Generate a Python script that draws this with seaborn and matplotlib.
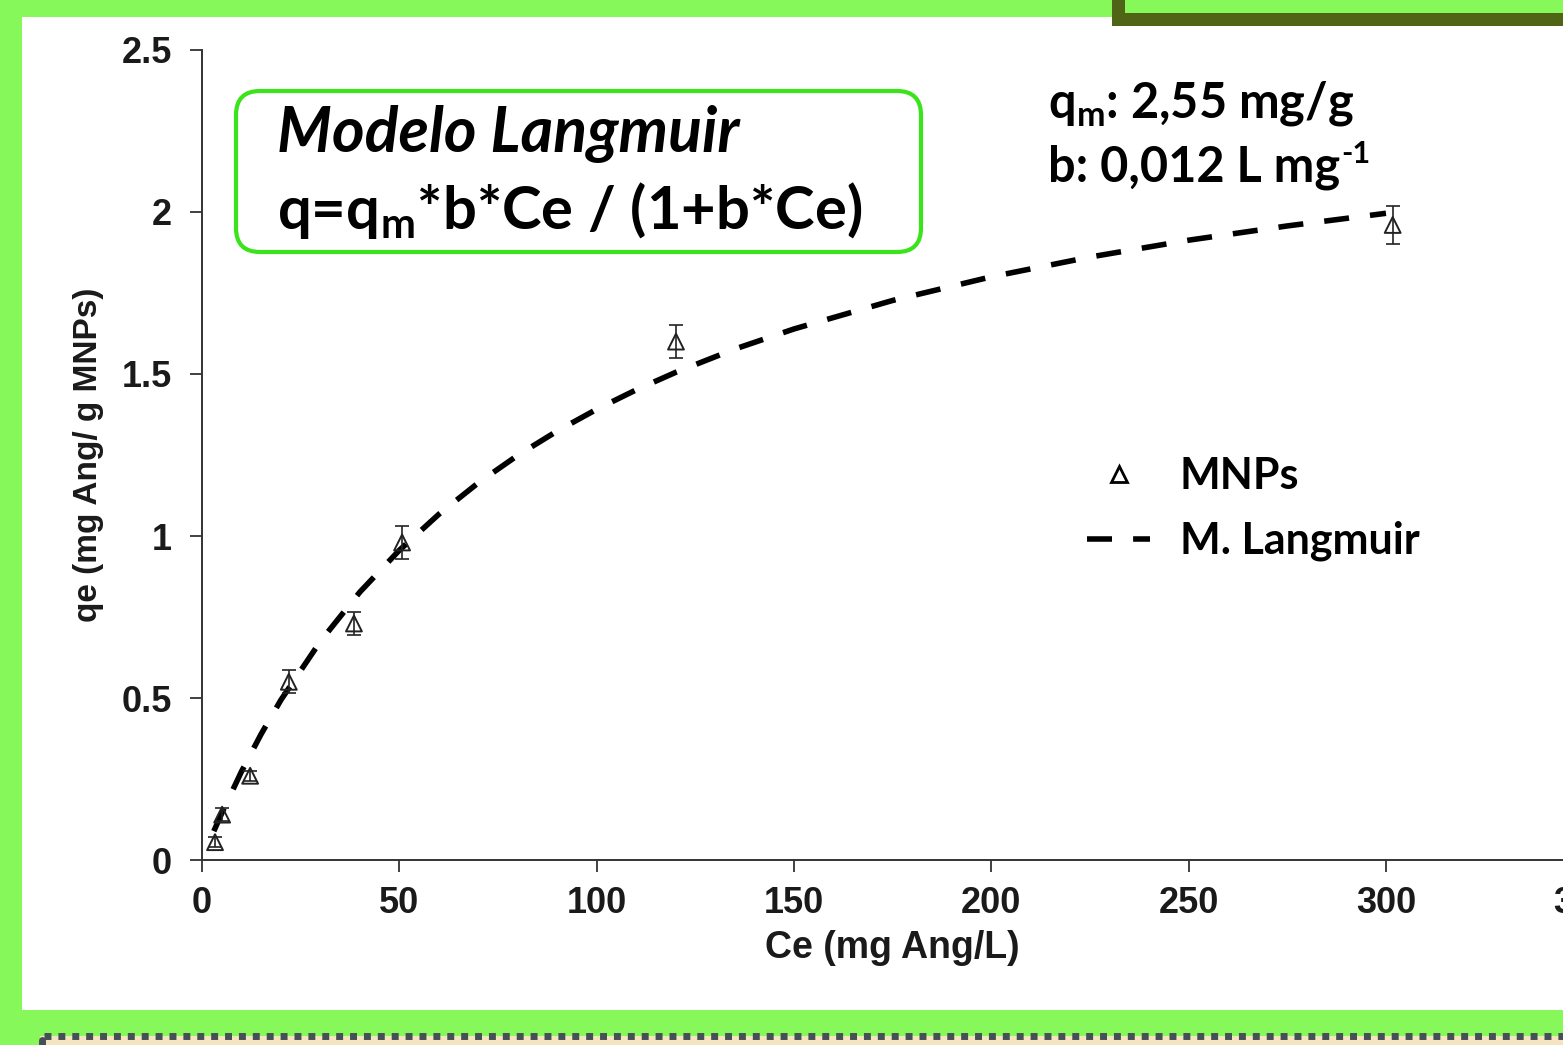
import matplotlib
matplotlib.use("Agg")
import matplotlib.pyplot as plt
import seaborn as sns
import pandas as pd
from matplotlib.patches import Rectangle, FancyBboxPatch
from matplotlib.lines import Line2D
from matplotlib.transforms import IdentityTransform

# ---------------- data ----------------
ce_obs = [3.3, 5.1, 12.2, 22.0, 38.5, 50.7, 120.1, 301.7]
qe_obs = [0.055, 0.14, 0.26, 0.55, 0.73, 0.98, 1.60, 1.96]
qe_err = [0.015, 0.02, 0.015, 0.035, 0.035, 0.05, 0.05, 0.06]

ce_fit = [3, 5, 10, 15, 20, 30, 40, 50, 60, 70, 80, 90, 100, 110, 120, 135,
          150, 175, 200, 225, 250, 275, 300]
q_fit = [0.089, 0.144, 0.273, 0.389, 0.494, 0.675, 0.827, 0.956, 1.067, 1.164,
         1.249, 1.324, 1.391, 1.451, 1.505, 1.577, 1.639, 1.727, 1.800, 1.861,
         1.913, 1.957, 1.996]

x_ticks = [0, 50, 100, 150, 200, 250, 300, 350]
x_tick_labels = ["0", "50", "100", "150", "200", "250", "300", "350"]
y_ticks = [0, 0.5, 1, 1.5, 2, 2.5]
y_tick_labels = ["0", "0.5", "1", "1.5", "2", "2.5"]

x_label = "Ce (mg Ang/L)"
y_label = "qe (mg Ang/ g MNPs)"
title_line1 = "Modelo Langmuir"
title_line2 = r"q=q$_\mathregular{m}$*b*Ce / (1+b*Ce)"
param_line1 = r"q$_\mathregular{m}$: 2,55 mg/g"
param_line2 = "b: 0,012 L mg"
param_line2_sup = "-1"
legend_labels = ["MNPs", "M. Langmuir"]

# ---------------- styling ----------------
W, H = 1563, 1045
GREEN_BG = "#86F85A"
sns.set_theme(style="ticks")
plt.rcParams["font.family"] = ["Liberation Sans", "DejaVu Sans"]

fig = plt.figure(figsize=(W / 100, H / 100), dpi=100, facecolor=GREEN_BG)


def px_rect(x0, y0, x1, y1, **kw):
    return Rectangle((x0 / W, 1 - y1 / H), (x1 - x0) / W, (y1 - y0) / H,
                     transform=fig.transFigure, **kw)


# slide decorations
fig.add_artist(px_rect(22, 17, 1700, 1010, fc="white", ec="none", zorder=-10))
fig.add_artist(px_rect(1112, -10, 1700, 26, fc="#4F6414", ec="none", zorder=-9))
fig.add_artist(px_rect(1125, -10, 1700, 13, fc=GREEN_BG, ec="none", zorder=-8))
fig.add_artist(px_rect(40, 1036, 1700, 1080, fc="#F4E4BF", ec="none", zorder=-9))
fig.add_artist(Line2D([44 / W, 1.0], [1 - 1036 / H] * 2, transform=fig.transFigure,
                      color="#474F56", lw=5, dashes=(1, 1), zorder=-7))
fig.add_artist(Line2D([41.5 / W] * 2, [1 - 1040 / H, 0.0], transform=fig.transFigure,
                      color="#474F56", lw=5, zorder=-7))

# axes: x from 0 (px 202) to 350 (px ~1583), y 0 (px 860) to 2.5 (px 50)
ax = fig.add_axes([202 / W, 185 / H, (1583.3 - 202) / W, 810 / H])
ax.set_facecolor("none")

df_fit = pd.DataFrame({"Ce": ce_fit, "q": q_fit})
sns.lineplot(data=df_fit, x="Ce", y="q", ax=ax, color="black", lw=4,
             linestyle=(0, (4.5, 3.8)), zorder=3)

ax.errorbar(ce_obs, qe_obs, yerr=qe_err, fmt="none", ecolor="#222222",
            elinewidth=1.2, capsize=5, capthick=1.2, zorder=4)
df_obs = pd.DataFrame({"Ce": ce_obs, "qe": qe_obs})
sns.scatterplot(data=df_obs, x="Ce", y="qe", ax=ax, marker="^", s=130,
                facecolors="none", edgecolors="#222222", linewidths=1.4, zorder=5)

ax.set_xlim(0, 350)
ax.set_ylim(0, 2.5)
ax.set_xticks(x_ticks, x_tick_labels)
ax.set_yticks(y_ticks, y_tick_labels)
sns.despine(ax=ax)
for sp in ("left", "bottom"):
    ax.spines[sp].set_color("#333333")
    ax.spines[sp].set_linewidth(1.4)
ax.tick_params(axis="both", direction="out", length=8.5, width=1.3,
               colors="#333333", labelcolor="#1a1a1a", labelsize=26)
ax.tick_params(axis="x", pad=10)
ax.tick_params(axis="y", pad=13)
for lbl in ax.get_xticklabels() + ax.get_yticklabels():
    lbl.set_fontweight("bold")

ax.set_xlabel(x_label, fontsize=27, fontweight="bold", color="#1a1a1a")
ax.set_ylabel(y_label, fontsize=24, fontweight="bold", color="#1a1a1a")
ax.xaxis.label.set_va("center")
ax.yaxis.label.set_va("center")
ax.xaxis.set_label_coords(0.5, (1045 - 948 - 185) / 810)
ax.yaxis.set_label_coords((88 - 202) / 1381.3, 0.5)

# legend
handles = [
    Line2D([], [], marker="^", ls="none", mfc="none", mec="black", ms=12, mew=2),
    Line2D([], [], color="black", lw=4, linestyle=(0, (4.5, 3.8))),
]
leg = ax.legend(handles, legend_labels, loc="upper left",
                bbox_to_anchor=(1087 / W, 1 - 456 / H), bbox_transform=fig.transFigure,
                frameon=False, borderpad=0, borderaxespad=0, handlelength=1.47,
                handletextpad=0.68, labelspacing=0.58,
                prop={"family": "Lato", "weight": "bold", "size": 31})
for t in leg.get_texts():
    t.set_color("black")

# model box
box = FancyBboxPatch((236, H - 252), 921 - 236, 252 - 91,
                     boxstyle="round,pad=0,rounding_size=24",
                     transform=IdentityTransform(), fc="white", ec="#3BE31A",
                     lw=3, zorder=6)
fig.add_artist(box)
fig.text(277 / W, 1 - 152 / H, title_line1, family="Lato", weight="bold",
         style="italic", fontsize=45, va="baseline", color="black", zorder=7)
fig.text(277 / W, 1 - 229 / H, title_line2, family="Lato", weight="bold",
         fontsize=43, va="baseline", color="black", zorder=7)

fig.text(1048 / W, 1 - 118 / H, param_line1, family="Lato", weight="bold",
         fontsize=35, va="baseline", color="black", zorder=7)
t2 = fig.text(1048 / W, 1 - 181 / H, param_line2, family="Lato", weight="bold",
              fontsize=35, va="baseline", color="black", zorder=7)
fig.canvas.draw()
bb = t2.get_window_extent(renderer=fig.canvas.get_renderer())
fig.text((bb.x1 + 1) / W, 1 - 163 / H, param_line2_sup, family="Lato", weight="bold",
         fontsize=22, va="baseline", color="black", zorder=7)

fig.savefig("out.png", dpi=100, facecolor=GREEN_BG)
